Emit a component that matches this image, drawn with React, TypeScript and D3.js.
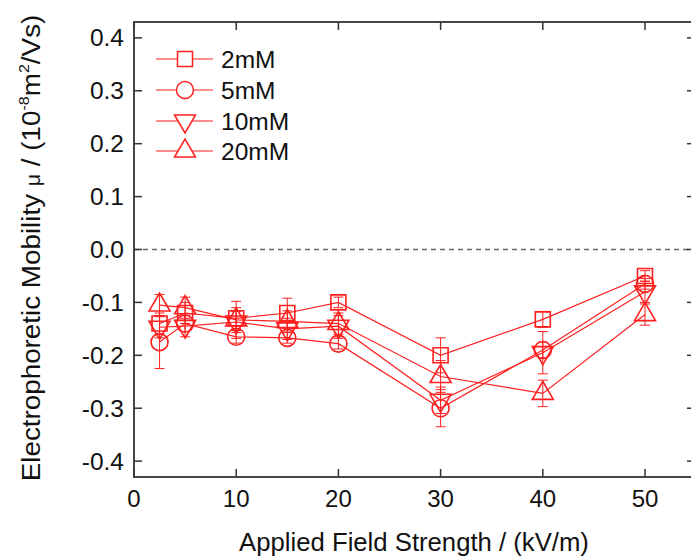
import React, { useEffect, useRef } from 'react';
import * as d3 from 'd3';

const fields = [2.5, 5, 10, 15, 20, 30, 40, 50];
const seriesNames = ['2mM', '5mM', '10mM', '20mM'];
const symbols = ['square', 'circle', 'down', 'up'];

const mob2 = [-0.14, -0.12, -0.13, -0.12, -0.1, -0.2, -0.132, -0.05];
const mob5 = [-0.175, -0.14, -0.165, -0.167, -0.178, -0.3, -0.19, -0.065];
const mob10 = [-0.147, -0.145, -0.137, -0.15, -0.145, -0.285, -0.195, -0.08];
const mob20 = [-0.105, -0.11, -0.133, -0.136, -0.14, -0.24, -0.272, -0.123];

const err2 = [0.02, 0.02, 0.02, 0.028, 0.01, 0.033, 0.015, 0.01];
const err5 = [0.05, 0.015, 0.012, 0.01, 0.01, 0.035, 0.015, 0.01];
const err10 = [0.02, 0.02, 0.02, 0.02, 0.02, 0.025, 0.04, 0.02];
const err20 = [0.02, 0.02, 0.035, 0.02, 0.02, 0.03, 0.025, 0.02];

const yTicks = [-0.4, -0.3, -0.2, -0.1, 0.0, 0.1, 0.2, 0.3, 0.4];
const xTicks = [0, 10, 20, 30, 40, 50];

const RED = '#ff1f1f';
const AXIS = '#333';
const FONT = 'Liberation Sans, Arial, sans-serif';

function markerPath(kind) {
  if (kind === 'square') return 'M-7.5,-7.5H7.5V7.5H-7.5Z';
  if (kind === 'circle') return d3.arc()({ innerRadius: 0, outerRadius: 8.5, startAngle: 0, endAngle: 2 * Math.PI });
  if (kind === 'down') return 'M-10.5,-6H10.5L0,12Z';
  return 'M-10.5,6H10.5L0,-12Z';
}

const App = () => {
  const ref = useRef(null);

  useEffect(() => {
    const svg = d3.select(ref.current);
    svg.selectAll('*').remove();

    const left = 134, right = 695, top = 22, bottom = 477;
    const x = d3.scaleLinear().domain([0, 55]).range([left, left + 55 * 10.22]);
    const y = d3.scaleLinear().domain([-0.43, 0.43]).range([bottom, top]);

    const values = [mob2, mob5, mob10, mob20];
    const errors = [err2, err5, err10, err20];

    // zero line
    svg.append('line')
      .attr('x1', left).attr('x2', right)
      .attr('y1', y(0)).attr('y2', y(0))
      .attr('stroke', '#666').attr('stroke-width', 1.5)
      .attr('stroke-dasharray', '5,4');

    // series
    values.forEach((vals, si) => {
      const pts = fields.map((f, i) => [x(f), y(vals[i])]);
      const g = svg.append('g');
      g.append('path')
        .attr('d', d3.line()(pts))
        .attr('fill', 'none').attr('stroke', RED).attr('stroke-width', 1.2);

      fields.forEach((f, i) => {
        const cx = x(f);
        const e = errors[si][i];
        const y1 = y(vals[i] + e), y2 = y(vals[i] - e);
        g.append('line').attr('x1', cx).attr('x2', cx).attr('y1', y1).attr('y2', y2)
          .attr('stroke', RED).attr('stroke-width', 1);
        [y1, y2].forEach((yy) => {
          g.append('line').attr('x1', cx - 5).attr('x2', cx + 5).attr('y1', yy).attr('y2', yy)
            .attr('stroke', RED).attr('stroke-width', 1);
        });
      });

      g.selectAll('.m')
        .data(pts)
        .enter()
        .append('path')
        .attr('transform', (d) => `translate(${d[0]},${d[1]})`)
        .attr('d', markerPath(symbols[si]))
        .attr('fill', 'none')
        .attr('stroke', RED)
        .attr('stroke-width', 1.6);
    });

    // frame
    svg.append('rect')
      .attr('x', left).attr('y', top)
      .attr('width', right - left).attr('height', bottom - top)
      .attr('fill', 'none').attr('stroke', AXIS).attr('stroke-width', 1.8);

    xTicks.forEach((t) => {
      svg.append('line').attr('x1', x(t)).attr('x2', x(t)).attr('y1', bottom).attr('y2', bottom - 8)
        .attr('stroke', AXIS).attr('stroke-width', 1.5);
      svg.append('line').attr('x1', x(t)).attr('x2', x(t)).attr('y1', top).attr('y2', top + 8)
        .attr('stroke', AXIS).attr('stroke-width', 1.5);
      svg.append('text').attr('x', x(t)).attr('y', bottom + 30)
        .attr('text-anchor', 'middle').attr('font-family', FONT).attr('font-size', 24)
        .attr('fill', '#111').text(t);
    });

    yTicks.forEach((t) => {
      svg.append('line').attr('x1', left).attr('x2', left + 8).attr('y1', y(t)).attr('y2', y(t))
        .attr('stroke', AXIS).attr('stroke-width', 1.5);
      svg.append('line').attr('x1', right).attr('x2', right - 8).attr('y1', y(t)).attr('y2', y(t))
        .attr('stroke', AXIS).attr('stroke-width', 1.5);
      svg.append('text').attr('x', 124).attr('y', y(t) + 8.5)
        .attr('text-anchor', 'end').attr('font-family', FONT).attr('font-size', 24.5)
        .attr('fill', '#111').text(t.toFixed(1));
    });

    // axis titles
    svg.append('text').attr('x', 414).attr('y', 551)
      .attr('text-anchor', 'middle').attr('font-family', FONT).attr('font-size', 25.7)
      .attr('fill', '#111').text('Applied Field Strength / (kV/m)');

    const yt = svg.append('text')
      .attr('transform', `translate(40,248) rotate(-90) scale(1.07,1)`)
      .attr('text-anchor', 'middle').attr('font-family', FONT).attr('font-size', 26)
      .attr('fill', '#111');
    yt.append('tspan').text('Electrophoretic Mobility ');
    yt.append('tspan').attr('font-size', 20).text('μ');
    yt.append('tspan').text(' / (10');
    yt.append('tspan').attr('font-size', 15).attr('dy', -11).text('-8');
    yt.append('tspan').attr('dy', 11).text('m');
    yt.append('tspan').attr('font-size', 15).attr('dy', -11).text('2');
    yt.append('tspan').attr('dy', 11).text('/Vs)');

    // legend
    const legY = [59, 90, 121, 151];
    seriesNames.forEach((name, i) => {
      const lg = svg.append('g').attr('transform', `translate(0,${legY[i]})`);
      lg.append('line').attr('x1', 156).attr('x2', 213).attr('y1', 0).attr('y2', 0)
        .attr('stroke', RED).attr('stroke-width', 1.2);
      lg.append('path').attr('transform', 'translate(185,0)')
        .attr('d', markerPath(symbols[i]))
        .attr('fill', 'white').attr('stroke', RED).attr('stroke-width', 1.5);
      lg.append('text').attr('x', 221).attr('y', 8.5).attr('font-family', FONT)
        .attr('font-size', 24.5).attr('fill', '#111').text(name);
    });
  }, []);

  return (
    <svg ref={ref} width={691} height={556} style={{ position: 'absolute', left: 0, top: 0, background: 'white' }} />
  );
};

export default App;
